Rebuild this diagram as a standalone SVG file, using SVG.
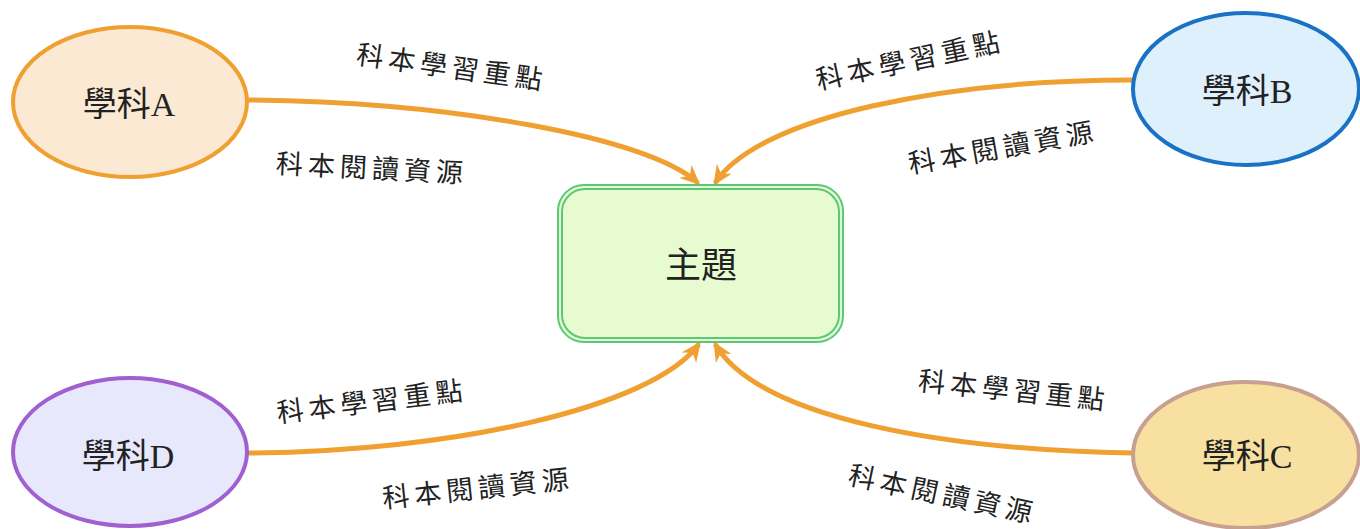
<svg xmlns="http://www.w3.org/2000/svg" width="1360" height="529" viewBox="0 0 1360 529">
<style>
.node-label{font-family:"Liberation Serif","Noto Sans CJK TC",serif;font-size:34px;fill:#222;text-anchor:middle}
.edge-label{font-family:"Noto Sans CJK TC","Noto Sans CJK SC",sans-serif;font-size:27px;fill:#222;text-anchor:middle;letter-spacing:5px}
.conn{fill:none;stroke:#f0a030;stroke-width:5;marker-end:url(#arr)}
</style>
<defs>
<marker id="arr" markerUnits="userSpaceOnUse" markerWidth="22" markerHeight="20" refX="17" refY="9" orient="auto">
<path d="M0,0 L20,9 L0,18 L6,9 z" fill="#f0a030"/>
</marker>
</defs>
<rect width="1360" height="529" fill="#fff"/>
<g id="connectors">
<path class="conn" d="M248,100 C450,102 648,137 698,183"/>
<path class="conn" d="M1133,80 C950,80 760,115 715,183"/>
<path class="conn" d="M248,453 C450,452 652,408 699,344"/>
<path class="conn" d="M1133,453 C950,450 760,420 715,344"/>
</g>
<g id="edge-labels">
<text class="edge-label" transform="rotate(8 452 67)" x="452" y="77">科本學習重點</text>
<text class="edge-label" transform="rotate(3 372 168)" x="372" y="178">科本閱讀資源</text>
<text class="edge-label" transform="rotate(-12 910 60)" x="910" y="70">科本學習重點</text>
<text class="edge-label" transform="rotate(-10 1003 147)" x="1003" y="157">科本閱讀資源</text>
<text class="edge-label" transform="rotate(-7 372 401)" x="372" y="411">科本學習重點</text>
<text class="edge-label" transform="rotate(-6 478 488)" x="478" y="498">科本閱讀資源</text>
<text class="edge-label" transform="rotate(6 1014 390)" x="1014" y="400">科本學習重點</text>
<text class="edge-label" transform="rotate(12 943 494)" x="943" y="504">科本閱讀資源</text>
</g>
<g id="topic">
<rect x="558" y="185" width="285" height="157" rx="26" fill="#e6fcd0" stroke="#5ac878" stroke-width="2"/>
<rect x="562" y="189" width="277" height="149" rx="23" fill="none" stroke="#5ac878" stroke-width="2"/>
<text class="node-label" x="701" y="278" style="font-family:'Noto Sans CJK TC',sans-serif;font-size:36px">主題</text>
</g>
<g id="subjectA">
<ellipse cx="130" cy="102" rx="117" ry="75" fill="#fbe9d3" stroke="#f0a030" stroke-width="4"/>
<text class="node-label" x="129" y="116">學科A</text>
</g>
<g id="subjectB">
<ellipse cx="1246" cy="89" rx="113" ry="76" fill="#dff0fd" stroke="#1a72c4" stroke-width="4"/>
<text class="node-label" x="1247" y="103">學科B</text>
</g>
<g id="subjectC">
<ellipse cx="1246" cy="455" rx="113" ry="73" fill="#f7e0a0" stroke="#c8a090" stroke-width="4"/>
<text class="node-label" x="1247" y="468">學科C</text>
</g>
<g id="subjectD">
<ellipse cx="130" cy="452" rx="117" ry="74" fill="#e8e8fc" stroke="#a060d0" stroke-width="4"/>
<text class="node-label" x="128" y="468">學科D</text>
</g>
</svg>
